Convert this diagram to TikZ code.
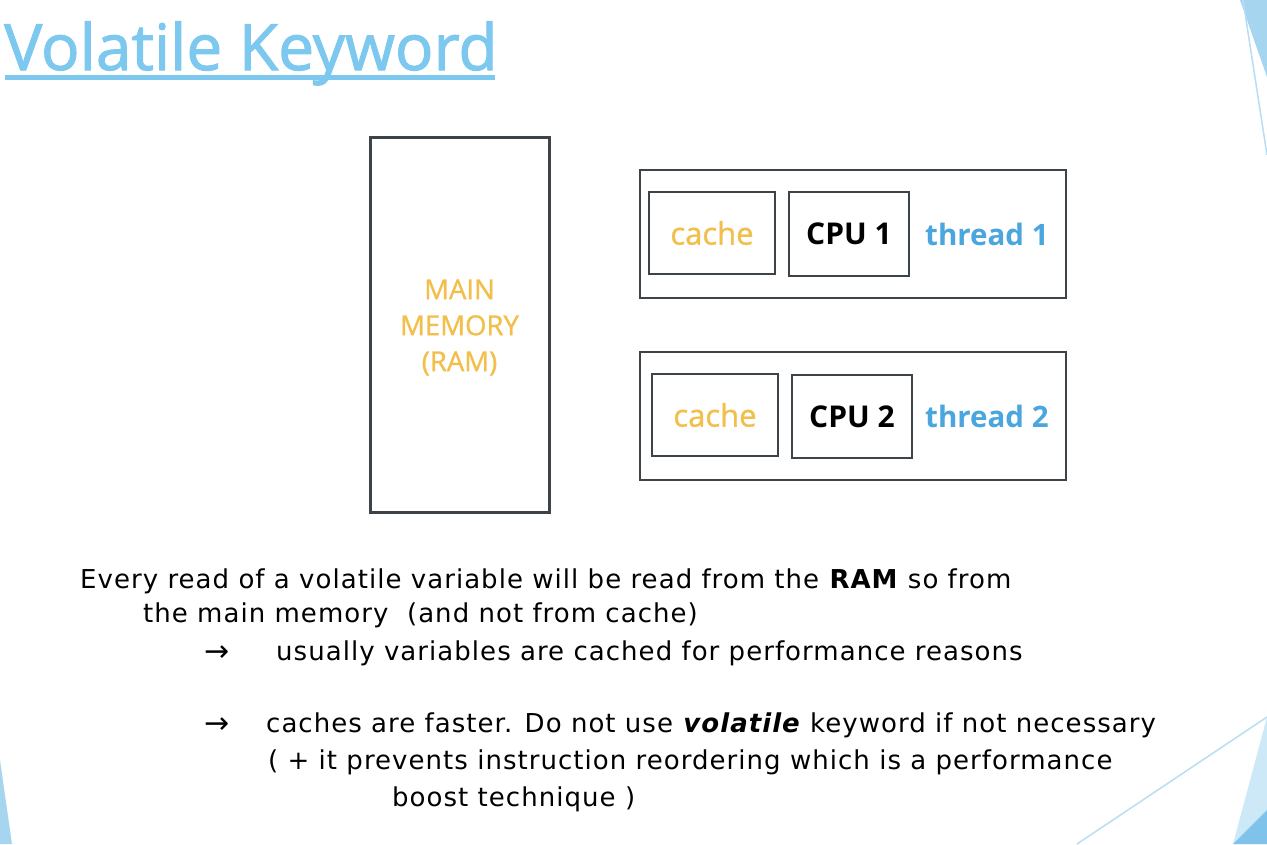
\documentclass[tikz,border=0pt]{standalone}
\usepackage{fontspec}
\setmainfont{Open Sans}
\newfontfamily\bodyfont[LetterSpace=4]{DejaVu Sans}
\newfontfamily\arrowfont{DejaVu Sans}
\newfontfamily\headfont[FakeBold=1.6]{Open Sans}
\newfontfamily\labelfont[FakeBold=1]{Open Sans}
\definecolor{titleblue}{HTML}{7DC8EE}
\definecolor{threadblue}{HTML}{4BA6DF}
\definecolor{amber}{HTML}{F2BF4A}
\definecolor{boxgray}{HTML}{3C4449}
\definecolor{facetlight}{HTML}{CDE9F8}
\definecolor{facetmid}{HTML}{A6D5F0}
\definecolor{facetdark}{HTML}{7FC3EA}
\definecolor{facetline}{HTML}{B8DEF4}
\begin{document}
\begin{tikzpicture}[x=1pt,y=-1pt,
  box/.style={draw=boxgray,line width=2pt,fill=white,inner sep=0pt},
  cachelabel/.style={text=amber,font=\labelfont\fontsize{31}{34}\selectfont},
  cpulabel/.style={font=\bfseries\fontsize{30}{34}\selectfont},
  threadlabel/.style={anchor=west,inner sep=0pt,text=threadblue,font=\bfseries\fontsize{29.5}{34}\selectfont},
  bodytext/.style={anchor=base west,inner sep=0pt,font=\bodyfont\fontsize{26}{30}\selectfont,text=black},
  arrowmark/.style={anchor=base west,inner sep=0pt,font=\arrowfont\fontsize{30}{34}\selectfont,text=black}]
\useasboundingbox (0,0) rectangle (1267,844);
\fill[white] (0,0) rectangle (1267,844);

% theme corner facets
\fill[facetmid] (1240,0) -- (1267,0) -- (1267,77) -- cycle;
\draw[facetline,line width=1.5pt] (1243,0) -- (1267,155);
\draw[facetline,line width=1.5pt] (1077,844) -- (1267,717);
\fill[facetlight] (1267,717) -- (1233,844) -- (1267,844) -- cycle;
\fill[facetdark] (1233,844) -- (1267,810) -- (1267,844) -- cycle;
\fill[facetmid] (0,760) -- (0,844) -- (12,844) -- cycle;

% title
\node[anchor=base west,inner sep=0pt,text=titleblue,font=\headfont\fontsize{64}{70}\selectfont] (title) at (4,70) {Volatile Keyword};
\fill[titleblue] (5,75) rectangle (495,80);

% main memory
\node[box,line width=3pt,minimum width=179pt,minimum height=375pt] (ram) at (459.5,324.5) {};
\node[align=center,text=amber,font=\labelfont\fontsize{27.5}{36}\selectfont] (ramtext) at ([yshift=-3pt]ram.center) {MAIN\\MEMORY\\(RAM)};

% thread 1
\node[box,minimum width=426pt,minimum height=128pt] (t1) at (853,234) {};
\node[box,cachelabel,minimum width=126pt,minimum height=82pt] (cache1) at (712,233) {cache};
\node[box,cpulabel,minimum width=120pt,minimum height=84pt] (cpu1) at (849,234) {CPU 1};
\node[threadlabel] (th1) at (925,234) {thread 1};

% thread 2
\node[box,minimum width=426pt,minimum height=128pt] (t2) at (853,416) {};
\node[box,cachelabel,minimum width=126pt,minimum height=82pt] (cache2) at (715,415) {cache};
\node[box,cpulabel,minimum width=120pt,minimum height=83pt] (cpu2) at (852,416.5) {CPU 2};
\node[threadlabel] (th2) at (925,416) {thread 2};

% explanation
\node[bodytext] (l1) at (80,588) {Every read of a volatile variable will be read from the \textbf{RAM} so from};
\node[bodytext] (l2) at (143,622) {the main memory\ \ (and not from cache)};
\node[arrowmark] (a1) at (204,661) {→};
\node[bodytext] (l3) at (276,660) {usually variables are cached for performance reasons};
\node[arrowmark] (a2) at (204,733) {→};
\node[bodytext] (l4) at (266,732) {caches are faster. Do not use \textbf{\textit{volatile}} keyword if not necessary};
\node[bodytext] (l5) at (268,769) {( + it prevents instruction reordering which is a performance};
\node[bodytext] (l6) at (392,806) {boost technique )};
\end{tikzpicture}
\end{document}
